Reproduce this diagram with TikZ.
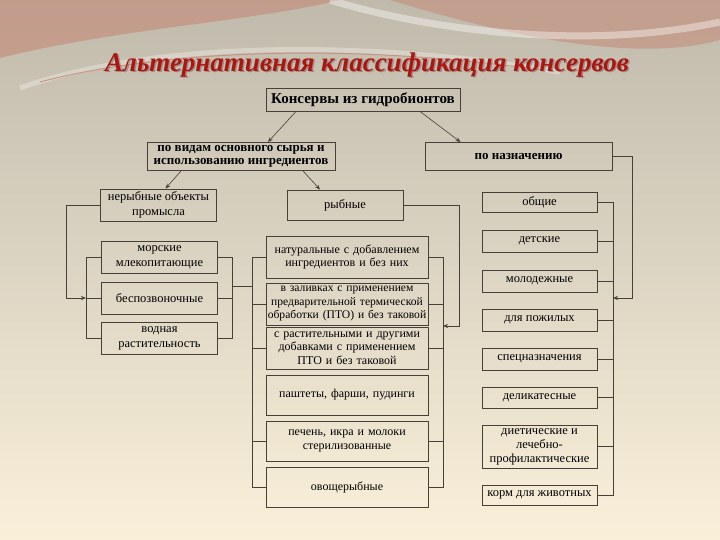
\documentclass[tikz,border=0pt]{standalone}
\usepackage{fontspec}
\setmainfont{Liberation Serif}
\usetikzlibrary{arrows.meta}
\definecolor{linegray}{RGB}{70,64,56}
\definecolor{titlered}{RGB}{176,20,16}
\definecolor{bgtop}{RGB}{192,186,172}
\definecolor{bgmid}{RGB}{220,212,195}
\definecolor{bgbottom}{RGB}{250,240,218}
\definecolor{wavered}{RGB}{196,136,118}
\begin{document}
\begin{tikzpicture}[x=1pt,y=-1pt,
        box/.style={draw=linegray,line width=0.9pt,inner sep=1pt,align=center,font=\fontsize{12}{13.5}\selectfont},
        headbox/.style={box,font=\bfseries\fontsize{13}{13.5}\selectfont},
        sidebox/.style={box,minimum width=116pt,font=\fontsize{12.5}{15}\selectfont},
        midbox/.style={box,minimum width=161pt,text width=160pt},
        rightbox/.style={box,minimum width=115pt,font=\fontsize{12.5}{14}\selectfont},
        link/.style={draw=linegray,line width=0.6pt},
        arr/.style={link,-{Stealth[length=5pt,width=4pt]}},
        titlefont/.style={font=\bfseries\itshape\fontsize{27}{31}\selectfont}]
        \useasboundingbox (0,0) rectangle (720,540);
        \shade [top color=bgtop,middle color=bgmid,bottom color=bgbottom] (0,0) rectangle (720,540);
        \fill [wavered,opacity=.6] (0,0) -- (340,0) .. controls (250,22) and (120,28) .. (0,58) -- cycle;
        \fill [wavered,opacity=.55] (390,0) -- (720,0) -- (720,40) .. controls (640,62) and (520,40) .. (390,0) -- cycle;
        \draw [white,opacity=.4,line width=7pt] (330,0) .. controls (420,28) and (580,52) .. (720,22);
        \draw [white,opacity=.3,line width=5pt] (20,88) .. controls (150,42) and (360,38) .. (560,72);
        \draw [wavered,opacity=.8,line width=1pt] (40,82) .. controls (170,48) and (360,44) .. (540,70);

        \node [titlefont,text=black!60,opacity=.5] (titleshadow) at (368.5,66.5) {Альтернативная классификация консервов};
        \node [titlefont,text=titlered] (title) at (367,65) {Альтернативная классификация консервов};

        \node [box,font=\bfseries\fontsize{15}{17}\selectfont,minimum width=194pt,minimum height=23pt] (hydro) at (363,99.5) {Консервы из гидробионтов};
        \node [headbox,minimum width=188pt,minimum height=28pt] (raw) at (241,156.5) {по видам основного сырья и\\использованию ингредиентов};
        \node [headbox,minimum width=187pt,minimum height=28pt] (purpose) at (518.5,156.5) {по назначению};

        \node [sidebox,minimum height=32pt] (nonfish) at (158.5,205) {нерыбные объекты\\промысла};
        \node [sidebox,minimum height=32pt] (mammals) at (159.5,257) {морские\\млекопитающие};
        \node [sidebox,minimum height=32pt] (invert) at (159.5,298) {беспозвоночные};
        \node [sidebox,minimum height=32pt] (plants) at (159.5,338) {водная\\растительность};

        \node [sidebox,minimum height=30pt] (fish) at (345,205) {рыбные};
        \node [midbox,minimum height=42pt] (natural) at (347,257) {натуральные с добавлением\\ингредиентов и без них};
        \node [midbox,minimum height=42pt,font=\fontsize{11.6}{13.5}\selectfont] (sauce) at (347,304) {в заливках с применением\\предварительной термической\\обработки (ПТО) и без таковой};
        \node [midbox,minimum height=42pt] (veg) at (347,348) {с растительными и другими\\добавками с применением\\ПТО и без таковой};
        \node [midbox,minimum height=40pt] (pate) at (347,395) {паштеты, фарши, пудинги};
        \node [midbox,minimum height=40pt] (liver) at (347,441) {печень, икра и молоки\\стерилизованные};
        \node [midbox,minimum height=40pt] (vegfish) at (347,487) {овощерыбные};

        \node [rightbox,minimum height=20pt] (general) at (539.5,202) {общие};
        \node [rightbox,minimum height=22pt] (children) at (539.5,241) {детские};
        \node [rightbox,minimum height=22pt] (youth) at (539.5,281) {молодежные};
        \node [rightbox,minimum height=22pt] (elderly) at (539.5,320) {для пожилых};
        \node [rightbox,minimum height=22pt] (special) at (539.5,359) {спецназначения};
        \node [rightbox,minimum height=21pt] (delicacy) at (539.5,397.5) {деликатесные};
        \node [rightbox,minimum height=43pt] (diet) at (539.5,446.5) {диетические и\\лечебно-\\профилактические};
        \node [rightbox,minimum height=20pt] (feed) at (539.5,495) {корм для животных};

        \coordinate (lout) at (66,298);
        \coordinate (lbr) at (86,298);
        \coordinate (lrb) at (232,286);
        \coordinate (mlb) at (252,286);
        \coordinate (mrb) at (443,326);
        \coordinate (fout) at (459,326);
        \coordinate (rrb) at (613,298);
        \coordinate (rout) at (632,298);

        \draw [arr] ([xshift=-67pt]hydro.south) -- ([xshift=27pt]raw.north);
        \draw [arr] ([xshift=57pt]hydro.south) -- ([xshift=-58pt]purpose.north);
        \draw [arr] ([xshift=-60pt]raw.south) -- ([xshift=7pt]nonfish.north);
        \draw [arr] ([xshift=62pt]raw.south) -- ([xshift=-25pt]fish.north);

        \draw [arr] (nonfish.west) -| (lout) -- (lbr);
        \draw [link] (mammals.west) -- (mammals.west -| lbr) -- (plants.west -| lbr) -- (plants.west);
        \draw [link] (invert.west) -- (lbr);
        \draw [link] (mammals.east) -- (mammals.east -| lrb) -- (plants.east -| lrb) -- (plants.east);
        \draw [link] (invert.east) -- (invert.east -| lrb);
        \draw [link] (lrb) -- (mlb);

        \draw [link] (natural.west) -- (natural.west -| mlb) -- (vegfish.west -| mlb) -- (vegfish.west);
        \draw [link] (sauce.west) -- (sauce.west -| mlb);
        \draw [link] (veg.west) -- (veg.west -| mlb);
        \draw [link] (liver.west) -- (liver.west -| mlb);
        \draw [link] (natural.east) -- (natural.east -| mrb) -- (vegfish.east -| mrb) -- (vegfish.east);
        \draw [link] (sauce.east) -- (sauce.east -| mrb);
        \draw [link] (veg.east) -- (veg.east -| mrb);
        \draw [link] (liver.east) -- (liver.east -| mrb);
        \draw [arr] (fish.east) -| (fout) -- (mrb);

        \draw [link] (general.east) -- (general.east -| rrb) -- (feed.east -| rrb) -- (feed.east);
        \draw [link] (children.east) -- (children.east -| rrb);
        \draw [link] (youth.east) -- (youth.east -| rrb);
        \draw [link] (elderly.east) -- (elderly.east -| rrb);
        \draw [link] (special.east) -- (special.east -| rrb);
        \draw [link] (delicacy.east) -- (delicacy.east -| rrb);
        \draw [link] (diet.east) -- (diet.east -| rrb);
        \draw [arr] (purpose.east) -| (rout) -- (rrb);

      \end{tikzpicture}
\end{document}
